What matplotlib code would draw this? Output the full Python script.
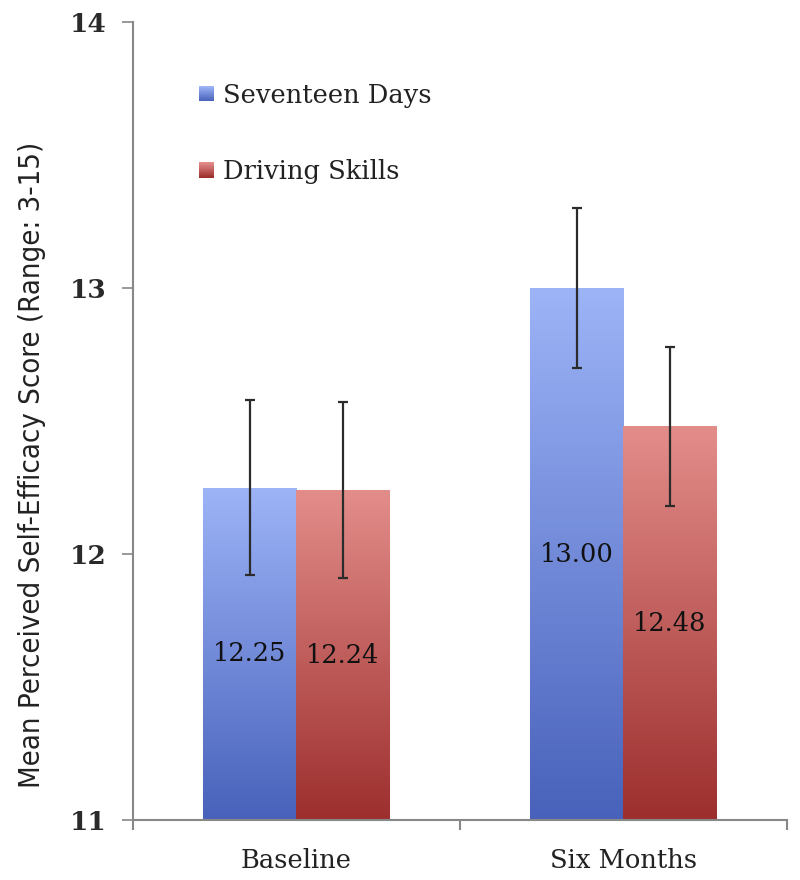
import numpy as np
import matplotlib
matplotlib.use("Agg")
import matplotlib.pyplot as plt
from matplotlib.colors import LinearSegmentedColormap
from matplotlib.patches import Rectangle
from matplotlib.legend_handler import HandlerBase

categories = ["Baseline", "Six Months"]
series_names = ["Seventeen Days", "Driving Skills"]
seventeen_days = [12.25, 13.00]
driving_skills = [12.24, 12.48]
seventeen_err = [0.33, 0.30]
driving_err = [0.33, 0.30]
labels_17 = ["12.25", "13.00"]
labels_ds = ["12.24", "12.48"]

blue_top, blue_bot = "#9db4f7", "#4862bb"
red_top, red_bot = "#e38d8a", "#9c2f2e"

serif = ["DejaVu Serif"]

fig = plt.figure(figsize=(8, 8.8), dpi=100)
ax = fig.add_axes([0.166, 0.068, 0.8175, 0.907])

x = np.arange(len(categories))
w = 0.285

def grad_bars(xpos, vals, top, bot):
    cmap = LinearSegmentedColormap.from_list("g", [bot, top])
    bars = ax.bar(xpos, vals, w, bottom=0, color="none", edgecolor="none", zorder=2)
    for b in bars:
        x0, y0 = b.get_x(), 11.0
        x1, y1 = b.get_x() + b.get_width(), b.get_height()
        img = np.linspace(0, 1, 256).reshape(-1, 1)
        im = ax.imshow(img, cmap=cmap, origin="lower", aspect="auto",
                       extent=[x0, x1, y0, y1], zorder=2, interpolation="bilinear")
        im.set_clip_path(b)
    return bars, cmap

b1, c1 = grad_bars(x - w / 2, seventeen_days, blue_top, blue_bot)
b2, c2 = grad_bars(x + w / 2, driving_skills, red_top, red_bot)

ax.errorbar(x - w / 2, seventeen_days, yerr=seventeen_err, fmt="none",
            ecolor="#2b2b2b", elinewidth=1.6, capsize=3.5, capthick=1.6, zorder=4)
ax.errorbar(x + w / 2, driving_skills, yerr=driving_err, fmt="none",
            ecolor="#2b2b2b", elinewidth=1.6, capsize=3.5, capthick=1.6, zorder=4)

for xi, v, t in zip(x - w / 2, seventeen_days, labels_17):
    ax.text(xi, (11 + v) / 2, t, ha="center", va="center", fontsize=18.5,
            family=serif, color="#111111", zorder=5)
for xi, v, t in zip(x + w / 2, driving_skills, labels_ds):
    ax.text(xi, (11 + v) / 2, t, ha="center", va="center", fontsize=18.5,
            family=serif, color="#111111", zorder=5)

ax.set_xlim(-0.5, 1.5)
ax.set_ylim(11, 14)
ax.set_yticks([11, 12, 13, 14])
ax.set_yticklabels(["11", "12", "13", "14"], fontsize=19, color="#2a2a2a",
                   fontweight="bold", family=serif)
ax.set_xticks(x)
ax.set_xticklabels(categories, fontsize=18.5, family=serif, color="#222222")
ax.set_xticks([-0.5, 0.5, 1.5], minor=True)
ax.tick_params(axis="x", which="major", length=0, pad=20)
ax.tick_params(axis="x", which="minor", length=7, width=1.5, color="#888888",
               direction="out")
ax.tick_params(axis="y", length=8, width=1.2, color="#888888", pad=11)
for s in ["top", "right"]:
    ax.spines[s].set_visible(False)
for s in ["left", "bottom"]:
    ax.spines[s].set_color("#888888")
    ax.spines[s].set_linewidth(1.5)

ax.set_ylabel("Mean Perceived Self-Efficacy Score (Range: 3-15)",
              family=["DejaVu Sans"], fontstretch="condensed", fontsize=21,
              color="#222222")
ax.yaxis.set_label_coords(-0.133, 0.445)

class GradHandler(HandlerBase):
    def __init__(self, cmap):
        super().__init__()
        self.cmap = cmap
    def create_artists(self, legend, orig_handle, xdescent, ydescent, width,
                       height, fontsize, trans):
        arts = []
        n = 20
        s = min(width, height) * 0.85
        x0 = -xdescent + width - s
        y0 = -ydescent + (height - s) / 2
        for i in range(n):
            r = Rectangle((x0, y0 + s * i / n), s, s / n + 0.3,
                          facecolor=self.cmap(i / (n - 1)), edgecolor="none",
                          transform=trans)
            arts.append(r)
        return arts

h1 = Rectangle((0, 0), 1, 1)
h2 = Rectangle((0, 0), 1, 1)
leg = ax.legend([h1, h2], series_names, loc="upper left",
                bbox_to_anchor=(0.062, 0.953), frameon=False,
                prop={"family": serif, "size": 18.5}, labelspacing=2.0,
                handlelength=0.7, handletextpad=0.35,
                handler_map={h1: GradHandler(c1), h2: GradHandler(c2)})
for t in leg.get_texts():
    t.set_color("#222222")

fig.savefig("out.png", dpi=100)
